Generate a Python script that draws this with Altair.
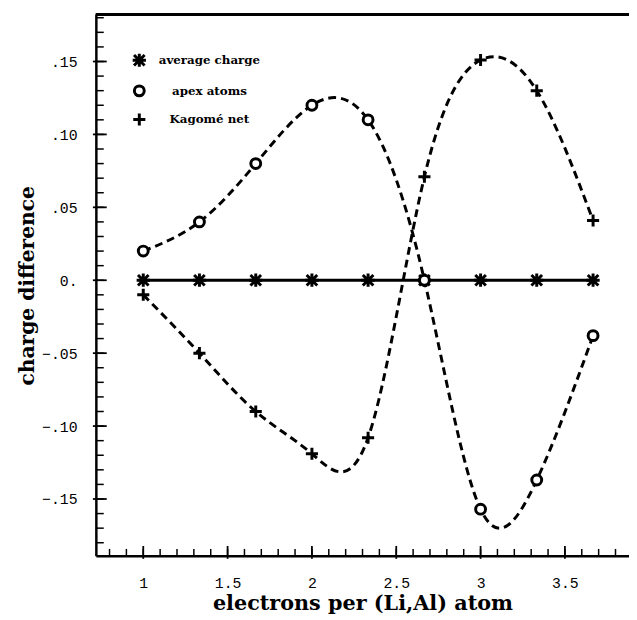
import altair as alt
import pandas as pd

# ---- data ----
electrons = [1.0, 1.333, 1.667, 2.0, 2.333, 2.667, 3.0, 3.333, 3.667]
average_charge = [0.0, 0.0, 0.0, 0.0, 0.0, 0.0, 0.0, 0.0, 0.0]
apex_atoms = [0.020, 0.040, 0.080, 0.120, 0.110, 0.000, -0.157, -0.137, -0.038]
kagome_net = [-0.010, -0.050, -0.090, -0.119, -0.108, 0.071, 0.151, 0.130, 0.041]

series_names = ["average charge", "apex atoms", "Kagomé net"]
x_major = [1, 1.5, 2, 2.5, 3, 3.5]
x_minor = [round(0.8 + 0.1 * i, 1) for i in range(31)]
y_major = [-0.15, -0.10, -0.05, 0.0, 0.05, 0.10, 0.15]
y_minor = [round(-0.18 + 0.01 * i, 2) for i in range(37)]

rows = []
for name, vals in zip(series_names, [average_charge, apex_atoms, kagome_net]):
    for xv, yv in zip(electrons, vals):
        rows.append({"series": name, "x": xv, "y": yv})
df = pd.DataFrame(rows)

W, H = 540, 548
xs = alt.Scale(domain=[0.719, 3.88], nice=False, zero=False)
ys = alt.Scale(domain=[-0.189, 0.182], nice=False, zero=False)

ASTER = "M-1,0L1,0M0,-1L0,1M-0.8,-0.8L0.8,0.8M-0.8,0.8L0.8,-0.8"
PLUS = "M-1,0L1,0M0,-1L0,1"
shapes = {"average charge": ASTER, "apex atoms": "circle", "Kagomé net": PLUS}
sizes = {"average charge": 180, "apex atoms": 100, "Kagomé net": 150}

x_axis = alt.Axis(
    values=x_major, format="~g", ticks=False, grid=False,
    domain=True, domainColor="black", domainWidth=2.5,
    labelFont="Liberation Mono", labelFontSize=15, labelColor="black",
    labelPadding=20,
    title="electrons per (Li,Al) atom", titleFont="DejaVu Serif",
    titleFontWeight="bold", titleFontSize=21, titleColor="black",
    titleBaseline="alphabetic", titleY=54, titleX=W / 2,
)
y_axis = alt.Axis(
    values=y_major, ticks=False, grid=False,
    domain=True, domainColor="black", domainWidth=2.5,
    labelExpr="datum.value == 0 ? '0.' : replace(format(datum.value, '.2f'), '0.', '.')",
    labelFont="Liberation Mono", labelFontSize=15, labelColor="black",
    labelPadding=19,
    title="charge difference", titleFont="DejaVu Serif",
    titleFontWeight="bold", titleFontSize=20.5, titleColor="black",
    titleAngle=-90, titleAlign="center", titleBaseline="middle",
    titleX=-69, titleY=H / 2,
)

base = alt.Chart(df)

avg_line = base.transform_filter(alt.datum.series == "average charge").mark_line(
    color="black", strokeWidth=3
).encode(
    x=alt.X("x:Q", scale=xs, axis=x_axis),
    y=alt.Y("y:Q", scale=ys, axis=y_axis),
)

dash_lines = base.transform_filter(alt.datum.series != "average charge").mark_line(
    color="black", strokeWidth=3, strokeDash=[8, 5], interpolate="natural"
).encode(
    x=alt.X("x:Q", scale=xs, axis=x_axis),
    y=alt.Y("y:Q", scale=ys, axis=y_axis),
    detail="series:N",
)


def point_layer(name):
    return base.transform_filter(alt.datum.series == name).mark_point(
        shape=shapes[name], filled=False, fill="white", fillOpacity=1,
        stroke="black", strokeWidth=3, opacity=1, size=sizes[name],
    ).encode(
        x=alt.X("x:Q", scale=xs, axis=x_axis),
        y=alt.Y("y:Q", scale=ys, axis=y_axis),
    )


point_layers = [point_layer(n) for n in series_names]

# manual legend (inside the plot, top-left)
legend_df = pd.DataFrame({"series": series_names})
legend_rows_y = [46, 77, 106]
legend_layers = []
for name, ly in zip(series_names, legend_rows_y):
    sub = alt.Chart(legend_df).transform_filter(alt.datum.series == name)
    legend_layers.append(
        sub.mark_point(
            shape=shapes[name], filled=False, fill="white", fillOpacity=1,
            stroke="black", strokeWidth=3, opacity=1, size=sizes[name],
        ).encode(x=alt.value(44), y=alt.value(ly))
    )
    legend_layers.append(
        sub.mark_text(
            font="DejaVu Serif", fontWeight="bold", fontSize=12, color="black",
            align="center", baseline="middle",
        ).encode(x=alt.value(115), y=alt.value(ly), text="series:N")
    )

xmin_df = pd.DataFrame({"x": x_minor})
xmaj_df = pd.DataFrame({"x": x_major})
ymin_df = pd.DataFrame({"y": y_minor})
ymaj_df = pd.DataFrame({"y": y_major})

x_minor_ticks = alt.Chart(xmin_df).mark_rule(color="black", strokeWidth=1.5).encode(
    x=alt.X("x:Q", scale=xs, axis=x_axis), y=alt.value(H), y2=alt.value(H - 7)
)
x_major_ticks = alt.Chart(xmaj_df).mark_rule(color="black", strokeWidth=1.8).encode(
    x=alt.X("x:Q", scale=xs, axis=x_axis), y=alt.value(H + 3), y2=alt.value(H - 10)
)
y_minor_ticks = alt.Chart(ymin_df).mark_rule(color="black", strokeWidth=1.5).encode(
    y=alt.Y("y:Q", scale=ys, axis=y_axis), x=alt.value(0), x2=alt.value(8)
)
y_major_ticks = alt.Chart(ymaj_df).mark_rule(color="black", strokeWidth=1.8).encode(
    y=alt.Y("y:Q", scale=ys, axis=y_axis), x=alt.value(-3), x2=alt.value(11)
)
top_line = alt.Chart(xmaj_df).mark_rule(color="black", strokeWidth=2.5).encode(
    x=alt.value(0), x2=alt.value(W), y=alt.value(0)
)

chart = alt.layer(
    avg_line, dash_lines, *point_layers, *legend_layers,
    x_minor_ticks, x_major_ticks, y_minor_ticks, y_major_ticks, top_line,
).properties(
    width=W, height=H,
    autosize=alt.AutoSizeParams(type="none"),
    padding={"left": 89, "top": 3, "right": 0, "bottom": 58},
).configure_view(stroke=None).configure(background="white")

chart.save("out.html", embed_options={"renderer": "svg", "actions": False})
